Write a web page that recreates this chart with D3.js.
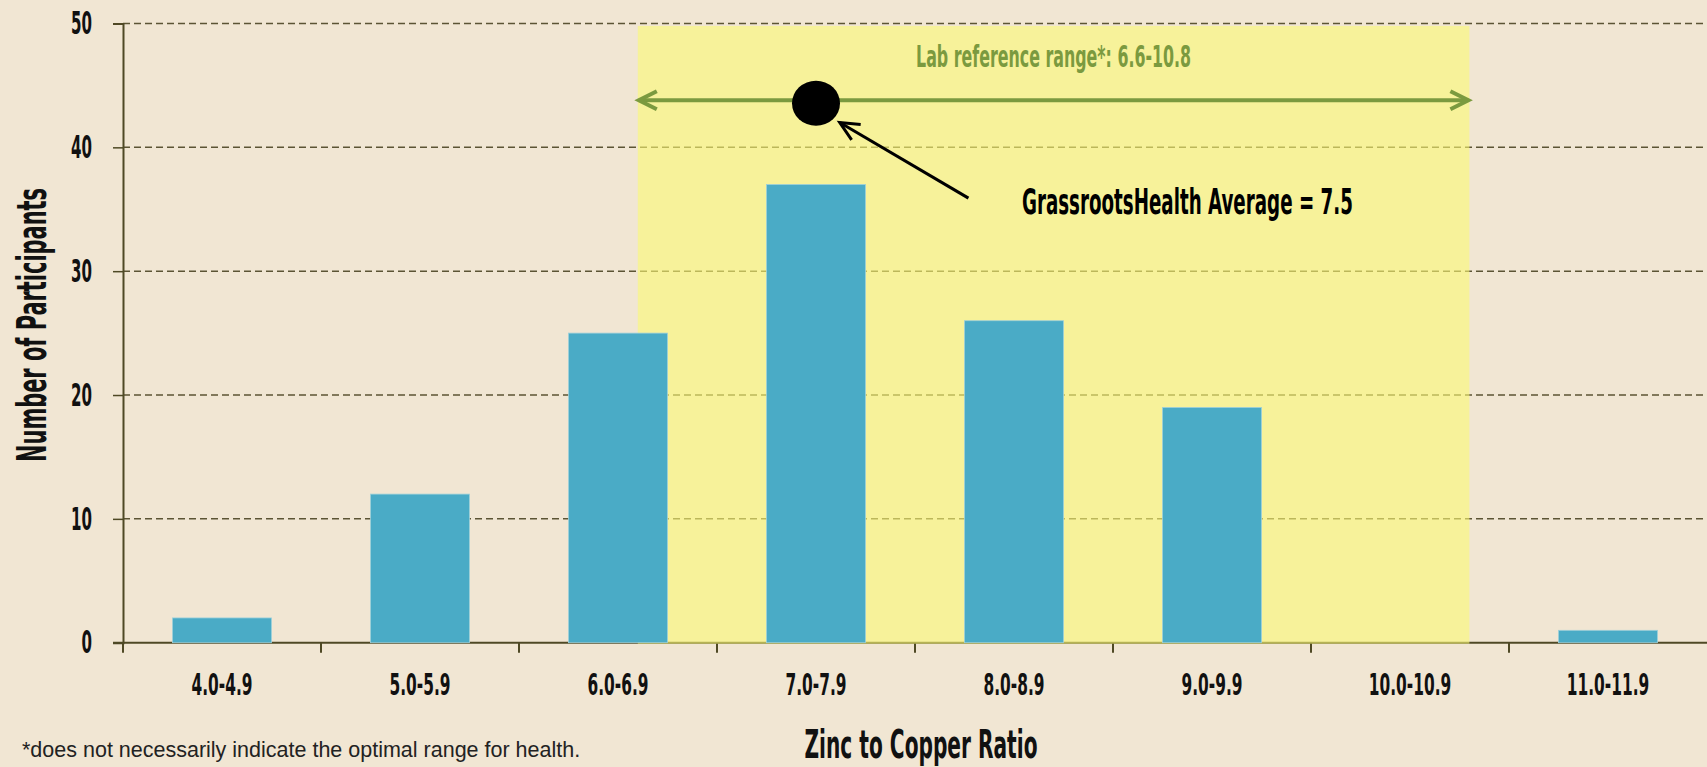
<!DOCTYPE html>
<html>
<head>
<meta charset="utf-8">
<script src="https://cdn.jsdelivr.net/npm/d3@7"></script>
<style>
  html, body { margin: 0; padding: 0; background: #f1e6d3; }
  svg { display: block; }
  .cond { font-family: "Liberation Sans Narrow", "DejaVu Sans Condensed", sans-serif; font-weight: bold; }
</style>
</head>
<body>
<svg id="chart"></svg>
<script>
// Zinc to Copper Ratio histogram

const categories = ["4.0-4.9", "5.0-5.9", "6.0-6.9", "7.0-7.9", "8.0-8.9", "9.0-9.9", "10.0-10.9", "11.0-11.9"];
const counts = [2, 12, 25, 37, 26, 19, 0, 1];
const binEdges = [4, 5, 6, 7, 8, 9, 10, 11];
const yTicks = [0, 10, 20, 30, 40, 50];

const labRange = [6.6, 10.8];
const labLabel = "Lab reference range*: 6.6-10.8";
const average = 7.5;
const averageLabel = "GrassrootsHealth Average = 7.5";
const footnote = "*does not necessarily indicate the optimal range for health.";

// annotation anchors, in data units [ratio, participants]
const rangeLevel = 43.8;
const labelLevel = 46.5;
const calloutTip = [7.62, 42.0];
const calloutTail = [8.27, 35.9];
const calloutText = [8.54, 34.6];

const width = 1707, height = 767;
const margin = {top: 23.5, right: 0, bottom: 124.3, left: 123};

const svg = d3.select("#chart")
    .attr("width", width)
    .attr("height", height);

const x = d3.scaleBand()
    .domain(categories)
    .range([margin.left, width - margin.right])
    .paddingInner(0.5)
    .paddingOuter(0.25);

// continuous scale over the same span, for bin edges and the reference range
const xv = d3.scaleLinear()
    .domain([4, 12])
    .range([margin.left, width - margin.right]);

const y = d3.scaleLinear()
    .domain([0, 50])
    .range([height - margin.bottom, margin.top]);

const axisColor = "#4f4925";

// grid lines
svg.append("g")
    .attr("stroke", "#5c5434")
    .attr("stroke-width", 1.5)
    .attr("stroke-dasharray", "7,4")
  .selectAll("line")
  .data(yTicks.filter(d => d > 0))
  .join("line")
    .attr("x1", margin.left)
    .attr("x2", width)
    .attr("y1", d => y(d))
    .attr("y2", d => y(d));

// x axis line and bin edge ticks
const xAxis = svg.append("g")
    .attr("stroke", axisColor)
    .attr("stroke-width", 2);
xAxis.append("line")
    .attr("x1", margin.left - 10)
    .attr("x2", width)
    .attr("y1", y(0))
    .attr("y2", y(0));
xAxis.selectAll(".edge")
  .data(binEdges)
  .join("line")
    .attr("class", "edge")
    .attr("x1", d => xv(d))
    .attr("x2", d => xv(d))
    .attr("y1", y(0))
    .attr("y2", y(0) + 10);

// y axis
const yAxis = svg.append("g")
    .attr("transform", `translate(${margin.left},0)`)
    .call(d3.axisLeft(y).tickValues(yTicks).tickSize(10).tickPadding(21));
yAxis.select(".domain").attr("stroke", axisColor).attr("stroke-width", 2);
yAxis.selectAll(".tick line").attr("stroke", axisColor).attr("stroke-width", 1.5);
yAxis.selectAll(".tick text")
    .attr("class", "cond")
    .attr("fill", "#111")
    .style("font-size", "32px");

// reference range shading
svg.append("rect")
    .attr("x", xv(labRange[0]))
    .attr("width", xv(labRange[1]) - xv(labRange[0]))
    .attr("y", y(49.8))
    .attr("height", y(0) - y(49.8) + 1)
    .attr("fill", "rgb(251,250,116)")
    .attr("fill-opacity", 0.6);

// bars
svg.append("g")
  .selectAll("rect")
  .data(counts)
  .join("rect")
    .attr("x", (d, i) => x(categories[i]))
    .attr("width", x.bandwidth())
    .attr("y", d => y(d))
    .attr("height", d => y(0) - y(d))
    .attr("fill", "#4aabc6")
    .attr("stroke", "#9fd0da")
    .attr("stroke-width", 0.8);

// x tick labels
const xLabels = svg.append("g")
  .selectAll("text")
  .data(categories)
  .join("text")
    .attr("class", "cond")
    .attr("text-anchor", "middle")
    .attr("fill", "#111")
    .style("font-size", "31px")
    .text(d => d);

// squeeze the narrow font to match the condensed face
const kx = 61 / xLabels.node().getComputedTextLength();
xLabels.attr("transform", d => `translate(${x(d) + x.bandwidth() / 2},${y(0) + 52}) scale(${kx},1)`);

const yText = yAxis.selectAll(".tick text");
const ky = 21 / yText.filter(d => d === 50).node().getComputedTextLength();
yText.attr("x", null).attr("transform", `translate(-31,0) scale(${ky},1)`);

// reference range arrow
const green = "#7b9a3f";
const arrowY = y(rangeLevel);
const range = svg.append("g")
    .attr("stroke", green)
    .attr("stroke-width", 4)
    .attr("fill", "none")
    .attr("stroke-linejoin", "miter");
range.append("line")
    .attr("x1", xv(labRange[0]) + 2)
    .attr("x2", xv(labRange[1]) - 2)
    .attr("y1", arrowY)
    .attr("y2", arrowY);
range.append("path")
    .attr("d", d3.line()([[xv(labRange[0]) + 19, arrowY - 9], [xv(labRange[0]) + 1, arrowY], [xv(labRange[0]) + 19, arrowY + 9]]));
range.append("path")
    .attr("d", d3.line()([[xv(labRange[1]) - 19, arrowY - 9], [xv(labRange[1]) - 1, arrowY], [xv(labRange[1]) - 19, arrowY + 9]]));

svg.append("text")
    .attr("class", "cond")
    .attr("x", xv((labRange[0] + labRange[1]) / 2))
    .attr("y", y(labelLevel))
    .attr("text-anchor", "middle")
    .attr("fill", green)
    .style("font-size", "30px")
    .attr("textLength", 275)
    .attr("lengthAdjust", "spacingAndGlyphs")
    .text(labLabel);

// average marker
svg.append("ellipse")
    .attr("cx", xv(average))
    .attr("cy", y(rangeLevel) + 3)
    .attr("rx", 24)
    .attr("ry", 22.5)
    .attr("fill", "#000");

// callout arrow
const tip = [xv(calloutTip[0]), y(calloutTip[1])];
const tail = [xv(calloutTail[0]), y(calloutTail[1])];
const ang = Math.atan2(tail[1] - tip[1], tail[0] - tip[0]);
const arm = a => [tip[0] + 21 * Math.cos(ang + a), tip[1] + 21 * Math.sin(ang + a)];
const callout = svg.append("g")
    .attr("stroke", "#000")
    .attr("stroke-width", 3)
    .attr("fill", "none");
callout.append("line")
    .attr("x1", tip[0]).attr("y1", tip[1])
    .attr("x2", tail[0]).attr("y2", tail[1]);
callout.append("path")
    .attr("d", d3.line()([arm(-0.44), tip, arm(0.44)]));

svg.append("text")
    .attr("class", "cond")
    .attr("x", xv(calloutText[0]))
    .attr("y", y(calloutText[1]))
    .attr("fill", "#000")
    .style("font-size", "36px")
    .attr("textLength", 331)
    .attr("lengthAdjust", "spacingAndGlyphs")
    .text(averageLabel);

// axis titles
svg.append("text")
    .attr("class", "cond")
    .attr("x", 921)
    .attr("y", 758)
    .attr("text-anchor", "middle")
    .attr("fill", "#111")
    .style("font-size", "39px")
    .attr("textLength", 233)
    .attr("lengthAdjust", "spacingAndGlyphs")
    .text("Zinc to Copper Ratio");

svg.append("text")
    .attr("class", "cond")
    .attr("transform", "translate(46,325) rotate(-90)")
    .attr("text-anchor", "middle")
    .attr("fill", "#111")
    .style("font-size", "40px")
    .attr("textLength", 274)
    .attr("lengthAdjust", "spacingAndGlyphs")
    .text("Number of Participants");

// footnote
svg.append("text")
    .attr("x", 22)
    .attr("y", 757)
    .attr("fill", "#222")
    .style("font-family", "'Liberation Sans', Arial, sans-serif")
    .style("font-size", "21.5px")
    .text(footnote);
</script>
</body>
</html>
